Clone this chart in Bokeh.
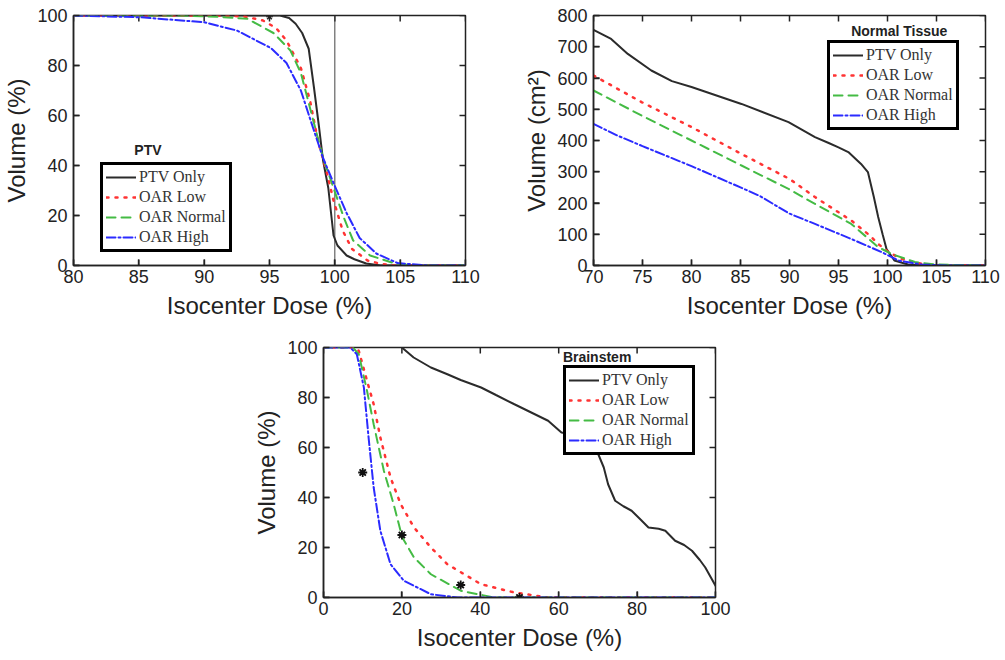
from bokeh.plotting import figure
from bokeh.models import Range1d, FixedTicker, Legend, LegendItem, Label, Spacer
from bokeh.layouts import column, row
from bokeh.embed import file_html
from bokeh.resources import INLINE

# ---------------- data ----------------
series_names = ["PTV Only", "OAR Low", "OAR Normal", "OAR High"]

# Panel 1: PTV
ptv1_x = [80, 90, 95, 95.8, 96.5, 97.0, 97.5, 98.0, 98.4, 98.8, 99.1, 99.5, 99.9, 100.2, 100.9, 101.5, 102.4, 103.5, 110]
ptv1_y = [100, 100, 100, 100, 99, 96.7, 93, 86.7, 71.3, 55, 42, 31, 12, 8, 4, 2.5, 0.8, 0, 0]
low1_x = [80, 90, 93, 94.5, 95.5, 96.3, 97.4, 98.1, 98.7, 99.4, 99.9, 100.6, 101.3, 102.5, 103.5, 104.5, 110]
low1_y = [100, 100, 99.7, 98, 95, 90, 79, 66, 50, 37, 26, 14, 6.7, 2, 0.7, 0, 0]
norm1_x = [80, 88, 91, 93.3, 95.3, 96.6, 97.4, 98.1, 98.6, 99.1, 99.9, 100.7, 101.4, 102.7, 104.5, 106, 110]
norm1_y = [100, 100, 99.5, 98.7, 93, 86, 77, 63, 53, 43, 31, 19, 10, 4, 1, 0, 0]
high1_x = [80, 85.1, 90, 92.5, 95.1, 96.3, 97.4, 98.4, 99.1, 99.9, 100.9, 101.9, 103.2, 104.8, 107, 110]
high1_y = [100, 99.3, 97.3, 94, 87, 81, 70, 54, 43, 33, 21, 11, 4.7, 1, 0, 0]
ref1_x = [100, 100]
ref1_y = [0, 100]
mark1_x = [95]
mark1_y = [99.5]

# Panel 2: Normal Tissue
ptv2_x = [70, 71.8, 73.5, 75.9, 78, 80, 85.1, 89.9, 92.6, 94, 95, 96.0, 97.3, 98.0, 98.6, 99.05, 99.5, 99.9, 100.7, 102.1, 104, 110]
ptv2_y = [754, 725, 677, 624, 590, 571, 517, 459, 411, 392, 378, 363, 325, 299, 220, 155, 100, 53, 16, 3, 0, 0]
low2_x = [70, 74.9, 80, 85.1, 90, 92.6, 96.3, 98.2, 99.05, 100.1, 101.4, 103.5, 105, 110]
low2_y = [608, 523, 443, 357, 277, 219, 144, 96, 69, 43, 21, 5, 1, 0]
norm2_x = [70, 74.9, 80, 85.1, 89.9, 92.6, 96.3, 99.05, 100.4, 102.8, 105, 110]
norm2_y = [560, 480, 400, 320, 245, 197, 133, 59, 37, 11, 3, 0]
high2_x = [70, 72.5, 75, 80, 85, 87, 90, 92.6, 96.3, 99.4, 101.1, 103.5, 106, 110]
high2_y = [453, 415, 382, 318, 250, 222, 166, 133, 85, 43, 16, 3, 0, 0]

# Panel 3: Brainstem
ptv3_x = [20, 23, 27.4, 31.6, 35, 40.2, 44, 48.7, 53, 57.3, 60.7, 62.5, 65.8, 68, 70.1, 71.5, 72.6, 74.4, 76.5, 78.6, 81, 82.9, 85.5, 87.2, 89.7, 92, 94, 96, 97.4, 100]
ptv3_y = [100, 96, 92, 89.3, 87, 84, 81, 77.3, 74, 70.7, 66, 65.5, 64, 61, 57.3, 52, 45.3, 38.7, 36.5, 34.7, 31, 28, 27.5, 26.7, 22.7, 21, 18.7, 15, 12, 4.7]
low3_x = [0, 8, 9, 11.1, 12.8, 14.5, 17.1, 19.7, 23.1, 27.4, 31.6, 40.2, 48.7, 57.3, 60, 100]
low3_y = [100, 100, 98.7, 86.7, 77.3, 64, 48, 37.3, 28, 20, 13.3, 5.3, 2, 0, 0, 0]
norm3_x = [0, 7.5, 9, 11.1, 12.8, 15.4, 17.9, 20.1, 23.1, 27.4, 35, 43.6, 100]
norm3_y = [100, 100, 97.3, 82.7, 69.3, 50.7, 37.3, 24, 16, 9.3, 2.7, 0, 0]
high3_x = [0, 6.8, 8.5, 10.3, 11.5, 12.8, 14.5, 17.1, 20.5, 27.4, 34.2, 100]
high3_y = [100, 100, 97.3, 84, 64, 44, 26.7, 13.3, 6.7, 1.3, 0, 0]
mark3_x = [10, 20, 35, 50]
mark3_y = [50, 25, 5, 0]

# axis ranges and ticks
range1_x, range1_y = (80, 110), (0, 100)
range2_x, range2_y = (70, 110), (0, 800)
range3_x, range3_y = (0, 100), (0, 100)
ticks1_x = [80, 85, 90, 95, 100, 105, 110]
ticks1_y = [0, 20, 40, 60, 80, 100]
ticks2_x = [70, 75, 80, 85, 90, 95, 100, 105, 110]
ticks2_y = [0, 100, 200, 300, 400, 500, 600, 700, 800]
ticks3_x = [0, 20, 40, 60, 80, 100]
ticks3_y = [0, 20, 40, 60, 80, 100]

# ---------------- styling ----------------
SANS = "Liberation Sans"
SERIF = "Liberation Serif"
STYLES = [
    dict(line_color="#2b2b2b", line_width=2, line_dash="solid"),
    dict(line_color="#ff3333", line_width=2.5, line_dash="2 7"),
    dict(line_color="#44bb44", line_width=2, line_dash="9 6"),
    dict(line_color="#2b2bff", line_width=2, line_dash="9 3 2 3"),
]
INK = "#222222"
FRAME_W, FRAME_H = 392, 250
TICK_LEN = 6  # px


def style_axis(ax):
    ax.axis_line_color = INK
    ax.axis_line_width = 1.5
    ax.major_tick_line_color = INK
    ax.major_tick_line_width = 1.4
    ax.major_tick_in = 6
    ax.major_tick_out = 0
    ax.minor_tick_line_color = None
    ax.major_label_text_font = SANS
    ax.major_label_text_font_size = "18px"
    ax.major_label_text_color = INK
    ax.axis_label_text_font = SANS
    ax.axis_label_text_font_size = "24px"
    ax.axis_label_text_font_style = "normal"
    ax.axis_label_text_color = INK


def make_fig(xr, yr, xt, yt, ylabel, mbl, mbr, mbt, mbb):
    p = figure(frame_width=FRAME_W, frame_height=FRAME_H, x_range=Range1d(*xr), y_range=Range1d(*yr),
               output_backend="svg", toolbar_location=None,
               min_border_left=mbl, min_border_right=mbr, min_border_top=mbt, min_border_bottom=mbb)
    p.xgrid.visible = False
    p.ygrid.visible = False
    p.outline_line_color = INK
    p.outline_line_width = 1.5
    p.outline_line_alpha = 1
    p.background_fill_color = "white"
    p.border_fill_color = "white"
    p.xaxis.ticker = FixedTicker(ticks=xt)
    p.yaxis.ticker = FixedTicker(ticks=yt)
    p.xaxis.axis_label = "Isocenter Dose (%)"
    p.yaxis.axis_label = ylabel
    style_axis(p.xaxis[0])
    style_axis(p.yaxis[0])
    p.xaxis.major_label_standoff = 4
    p.xaxis.axis_label_standoff = 6
    p.yaxis.major_label_standoff = 6
    p.yaxis.axis_label_standoff = 4
    # inward tick marks on all four sides of the box (MATLAB style), from the tick lists
    dy = (yr[1] - yr[0]) * TICK_LEN / FRAME_H
    dx = (xr[1] - xr[0]) * TICK_LEN / FRAME_W
    n, m = len(xt), len(yt)
    p.segment(x0=xt, y0=[yr[0]] * n, x1=xt, y1=[yr[0] + dy] * n, line_color=INK, line_width=1.5)
    p.segment(x0=xt, y0=[yr[1]] * n, x1=xt, y1=[yr[1] - dy] * n, line_color=INK, line_width=1.5)
    p.segment(x0=[xr[0]] * m, y0=yt, x1=[xr[0] + dx] * m, y1=yt, line_color=INK, line_width=1.5)
    p.segment(x0=[xr[1]] * m, y0=yt, x1=[xr[1] - dx] * m, y1=yt, line_color=INK, line_width=1.5)
    return p


def add_series(p, data, legend_loc, title, title_x, title_y):
    items = []
    for name, (xs, ys), st in zip(series_names, data, STYLES):
        r = p.line(xs, ys, line_cap="round", **st)
        items.append(LegendItem(label=name, renderers=[r]))
    lg = Legend(items=items, location=legend_loc,
                border_line_color="black", border_line_width=3, border_line_alpha=1,
                background_fill_color="white", background_fill_alpha=1,
                label_text_font=SERIF, label_text_font_size="16px", label_text_color="#333333",
                glyph_width=30, glyph_height=16, label_height=16, label_standoff=3,
                spacing=2, padding=3, margin=0)
    p.add_layout(lg)
    p.add_layout(Label(x=title_x, y=title_y, text=title, text_align="center", text_baseline="middle",
                       text_font=SANS, text_font_style="bold", text_font_size="14px",
                       text_color=INK, level="overlay"))


# Panel 1
p1 = make_fig(range1_x, range1_y, ticks1_x, ticks1_y, "Volume (%)", 73, 55, 15, 60)
p1.line(ref1_x, ref1_y, line_color="#444444", line_width=1)
add_series(p1, [(ptv1_x, ptv1_y), (low1_x, low1_y), (norm1_x, norm1_y), (high1_x, high1_y)],
           (27, 13), "PTV", 85.7, 46.4)
p1.scatter(mark1_x, mark1_y, marker="asterisk", size=7, line_color=INK, line_width=1.2)

# Panel 2
p2 = make_fig(range2_x, range2_y, ticks2_x, ticks2_y, "Volume (cm\u00b2)", 72, 16, 15, 60)
add_series(p2, [(ptv2_x, ptv2_y), (low2_x, low2_y), (norm2_x, norm2_y), (high2_x, high2_y)],
           (234, 135), "Normal Tissue", 101.2, 752)

# Panel 3
p3 = make_fig(range3_x, range3_y, ticks3_x, ticks3_y, "Volume (%)", 70, 16, 22, 58)
add_series(p3, [(ptv3_x, ptv3_y), (low3_x, low3_y), (norm3_x, norm3_y), (high3_x, high3_y)],
           (240, 142), "Brainstem", 69.8, 96.2)
p3.scatter(mark3_x, mark3_y, marker="asterisk", size=9, line_color="#111111", line_width=1.8)
p3.scatter(mark3_x, mark3_y, marker="x", size=7, line_color="#111111", line_width=1.2)

layout = column(row(p1, p2), row(Spacer(width=250, height=10), p3))

open("out.html", "w").write(file_html(layout, INLINE))
